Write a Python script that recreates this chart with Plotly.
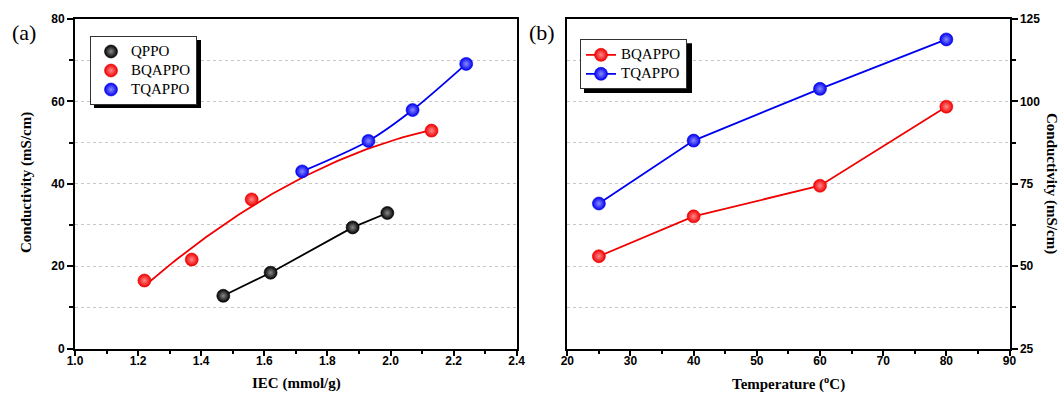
import numpy as np
import plotly.graph_objects as go

W, H = 1063, 399

# ---------------- data ----------------
# panel (a): conductivity vs IEC
qppo_iec = [1.47, 1.62, 1.88, 1.99]
qppo_cond = [12.8, 18.4, 29.4, 32.9]
bqappo_iec = [1.22, 1.37, 1.56, 2.13]
bqappo_cond = [16.5, 21.6, 36.2, 52.9]
tqappo_iec = [1.72, 1.93, 2.07, 2.24]
tqappo_cond = [43.0, 50.4, 57.9, 69.1]

# panel (b): conductivity vs temperature
temps = [25, 40, 60, 80]
bqappo_t = [53.0, 65.1, 74.4, 98.4]
tqappo_t = [69.0, 88.1, 103.8, 118.8]

a_xticks = [1.0, 1.2, 1.4, 1.6, 1.8, 2.0, 2.2, 2.4]
a_yticks = [0, 20, 40, 60, 80]
b_xticks = [20, 30, 40, 50, 60, 70, 80, 90]
b_yticks = [25, 50, 75, 100, 125]

# ---------------- helpers ----------------
def px(x):
    return x / W

def py(y):
    return 1 - y / H

RED, BLUE, BLACK = "#f00000", "#0000f0", "#000000"
RED_HI, BLUE_HI, BLACK_HI = "#ff8a8a", "#8a8aff", "#8a8a8a"
MS = 13

def ball(color, hi):
    return dict(size=MS, color=color, gradient=dict(type="radial", color=hi),
                line=dict(width=0.6, color=color))

def lname(s):
    return f'<span style="font-size:15px">{s}</span>'

fig = go.Figure()

# quadratic fit for BQAPPO (a)
coef = np.polyfit(bqappo_iec, bqappo_cond, 2)
fit_x = np.linspace(min(bqappo_iec), max(bqappo_iec), 80)
fit_y = np.polyval(coef, fit_x)

# ---- panel (a) lines ----
fig.add_trace(go.Scatter(x=qppo_iec, y=qppo_cond, mode="lines",
                         line=dict(color=BLACK, width=1.8), showlegend=False,
                         xaxis="x", yaxis="y"))
fig.add_trace(go.Scatter(x=fit_x, y=fit_y, mode="lines",
                         line=dict(color=RED, width=1.8), showlegend=False,
                         xaxis="x", yaxis="y"))
fig.add_trace(go.Scatter(x=tqappo_iec, y=tqappo_cond, mode="lines",
                         line=dict(color=BLUE, width=1.8, shape="spline", smoothing=0.8),
                         showlegend=False, xaxis="x", yaxis="y"))
# ---- panel (a) markers ----
fig.add_trace(go.Scatter(x=qppo_iec, y=qppo_cond, mode="markers", name=lname("QPPO"),
                         marker=ball(BLACK, BLACK_HI), legend="legend",
                         xaxis="x", yaxis="y"))
fig.add_trace(go.Scatter(x=bqappo_iec, y=bqappo_cond, mode="markers", name=lname("BQAPPO"),
                         marker=ball(RED, RED_HI), legend="legend",
                         xaxis="x", yaxis="y"))
fig.add_trace(go.Scatter(x=tqappo_iec, y=tqappo_cond, mode="markers", name=lname("TQAPPO"),
                         marker=ball(BLUE, BLUE_HI), legend="legend",
                         xaxis="x", yaxis="y"))

# ---- panel (b) ----
fig.add_trace(go.Scatter(x=temps, y=bqappo_t, mode="lines+markers", name=lname("BQAPPO"),
                         line=dict(color=RED, width=1.8), marker=ball(RED, RED_HI),
                         legend="legend2", xaxis="x2", yaxis="y2"))
fig.add_trace(go.Scatter(x=temps, y=tqappo_t, mode="lines+markers", name=lname("TQAPPO"),
                         line=dict(color=BLUE, width=1.8), marker=ball(BLUE, BLUE_HI),
                         legend="legend2", xaxis="x2", yaxis="y2"))

tickfont = dict(family="Liberation Sans", size=12, color="black", weight="bold")
GRID = "#c8c8c8"

common_x = dict(showline=True, linecolor="black", linewidth=2, mirror=True,
                ticks="outside", ticklen=5, tickwidth=1.5, tickcolor="black",
                showgrid=False, zeroline=False, tickfont=tickfont, automargin=False,
                ticklabelstandoff=-5)
common_y = dict(showline=True, linecolor="black", linewidth=2, mirror=True,
                ticks="outside", ticklen=6, tickwidth=1.5, tickcolor="black",
                showgrid=True, gridcolor=GRID, gridwidth=1, griddash="dot",
                zeroline=False, tickfont=tickfont, automargin=False)

ya_dom = [py(348.5), py(19)]

legend_common = dict(xanchor="left", yanchor="top", bgcolor="white",
                     bordercolor="#333", borderwidth=1,
                     font=dict(family="Liberation Serif", size=12, color="black"),
                     tracegroupgap=0, itemwidth=30)

fig.update_layout(
    template="none",
    width=W, height=H,
    margin=dict(l=0, r=0, t=0, b=0, autoexpand=False),
    paper_bgcolor="white", plot_bgcolor="white",
    font=dict(family="Liberation Serif", color="black"),
    xaxis=dict(domain=[px(75), px(516.7)], range=[1.0, 2.4],
               tickvals=a_xticks, ticktext=[f"{v:.1f}" for v in a_xticks],
               minor=dict(dtick=0.1, tick0=1.0, ticks="outside", ticklen=3,
                          tickwidth=1.5, tickcolor="black", showgrid=False),
               anchor="y", **common_x),
    yaxis=dict(domain=ya_dom, range=[0, 80], tickvals=a_yticks,
               minor=dict(dtick=10, tick0=0, ticks="outside", ticklen=4,
                          tickwidth=1.5, tickcolor="black", showgrid=True,
                          gridcolor=GRID, gridwidth=1, griddash="dot"),
               anchor="x", **common_y),
    xaxis2=dict(domain=[px(567.3), px(1009.5)], range=[20, 90], tickvals=b_xticks,
                minor=dict(dtick=5, tick0=20, ticks="outside", ticklen=3,
                           tickwidth=1.5, tickcolor="black", showgrid=False),
                anchor="y2", **common_x),
    yaxis2=dict(domain=ya_dom, range=[25, 125], tickvals=b_yticks, side="right",
                minor=dict(dtick=12.5, tick0=25, ticks="outside", ticklen=4,
                           tickwidth=1.5, tickcolor="black", showgrid=True,
                           gridcolor=GRID, gridwidth=1, griddash="dot"),
                anchor="x2", **common_y),
    legend=dict(x=px(90), y=py(36), **legend_common),
    legend2=dict(x=px(580), y=py(39.3), **legend_common),
    showlegend=True,
    hovermode=False,
)

# legend shadows
fig.add_shape(type="rect", xref="paper", yref="paper",
              x0=px(94), x1=px(201), y0=py(108), y1=py(40),
              fillcolor="black", line=dict(width=0), layer="above")
fig.add_shape(type="rect", xref="paper", yref="paper",
              x0=px(584), x1=px(692), y0=py(93), y1=py(43.3),
              fillcolor="black", line=dict(width=0), layer="above")

serif_b = dict(family="Liberation Serif", size=15, color="black", weight="bold")
ann = [
    dict(text="(a)", x=px(24), y=py(33), font=dict(family="Liberation Serif", size=22, color="black")),
    dict(text="(b)", x=px(542), y=py(33), font=dict(family="Liberation Serif", size=22, color="black")),
    dict(text="Conductivity (mS/cm)", x=px(26), y=py(183), textangle=-90, font=serif_b),
    dict(text="Conductivity (mS/cm)", x=px(1052), y=py(183), textangle=90, font=serif_b),
    dict(text="IEC (mmol/g)", x=px(296), y=py(383), font=serif_b),
    dict(text="Temperature (<sup>o</sup>C)", x=px(788), y=py(383), font=serif_b),
]
for a in ann:
    fig.add_annotation(xref="paper", yref="paper", showarrow=False,
                       xanchor="center", yanchor="middle", **a)

fig.write_html("out.html", config={"displayModeBar": False},
               post_script="document.body.style.margin='0';document.body.style.padding='0';")
